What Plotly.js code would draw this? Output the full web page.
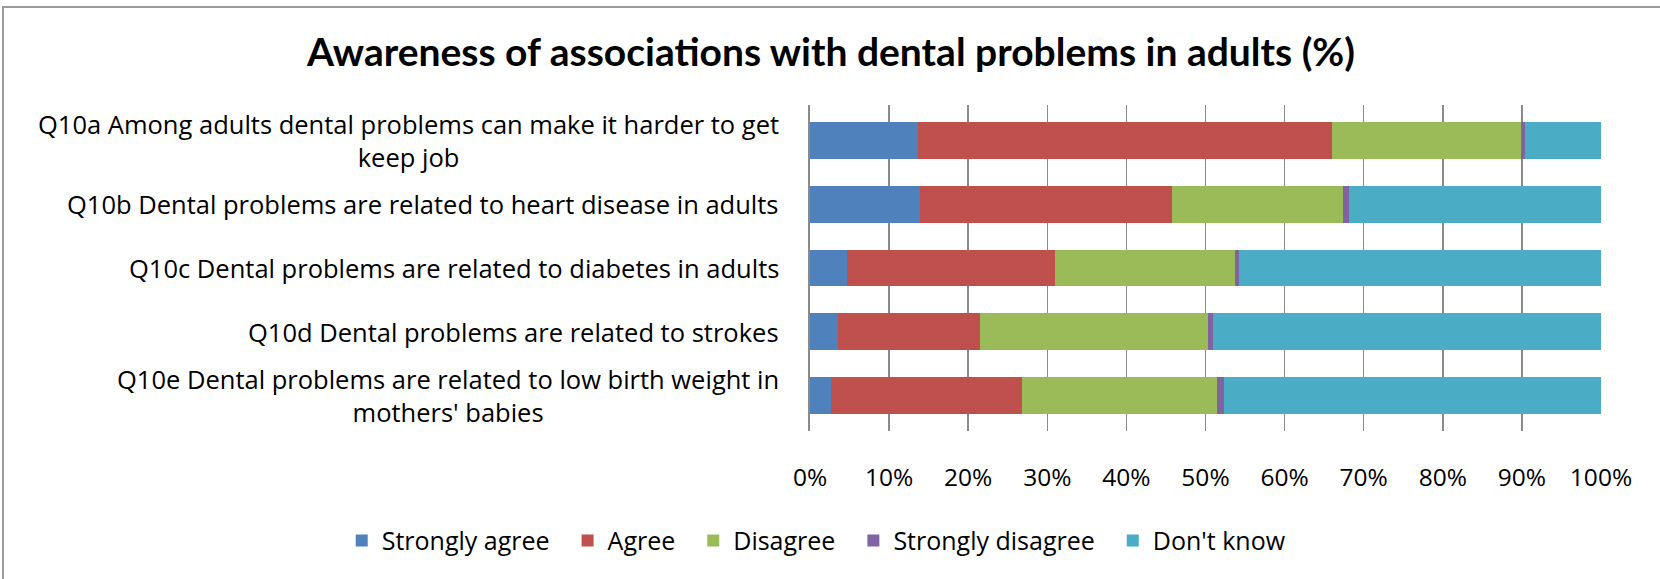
<!DOCTYPE html>
<html>
<head>
<meta charset="utf-8">
<script src="https://cdn.plot.ly/plotly-3.0.1.min.js"></script>
<style>
  html, body { margin: 0; padding: 0; background: #fff; overflow: hidden; }
  #wrap { position: relative; width: 1660px; height: 579px; }
  #chart { position: absolute; left: 0; top: 0; width: 1660px; height: 579px; }
  #frame { position: absolute; left: 2px; top: 6px; width: 1700px; height: 700px;
           border-left: 2px solid #9a9a9a; border-top: 2px solid #9a9a9a; pointer-events: none; }
</style>
</head>
<body>
<div id="wrap">
  <div id="chart"></div>
  <div id="frame"></div>
</div>
<script>
// ---- data ----
const categories = [
  "Q10a Among adults dental problems can make it harder to get<br>keep job",
  "Q10b Dental problems are related to heart disease in adults",
  "Q10c Dental problems are related to diabetes in adults",
  "Q10d Dental problems are related to strokes",
  "Q10e Dental problems are related to low birth weight in<br>mothers' babies"
];
const seriesNames = ["Strongly agree", "Agree", "Disagree", "Strongly disagree", "Don't know"];
const stronglyAgree    = [13.7, 13.9, 4.7, 3.5, 2.7];
const agree            = [52.3, 31.9, 26.3, 18.0, 24.1];
const disagree         = [23.9, 21.6, 22.7, 28.8, 24.7];
const stronglyDisagree = [0.5, 0.7, 0.5, 0.6, 0.8];
const dontKnow         = [9.6, 31.9, 45.8, 49.1, 47.7];
const tickValues = [0, 10, 20, 30, 40, 50, 60, 70, 80, 90, 100];
const tickLabels = ["0%", "10%", "20%", "30%", "40%", "50%", "60%", "70%", "80%", "90%", "100%"];
const titleText = "Awareness of associations with dental problems in adults (%)";

// ---- styles ----
const colors = ["#4F81BD", "#C0504D", "#9BBB59", "#8064A2", "#4BACC6"];
const FONT = "'Open Sans', 'Liberation Sans', sans-serif";
const TITLE_FONT = "Lato, 'Open Sans', sans-serif";
const LEGEND_PAD = "\u00a0\u00a0";  // extra spacing between legend entries

const seriesValues = [stronglyAgree, agree, disagree, stronglyDisagree, dontKnow];
const traces = seriesValues.map((vals, i) => ({
  type: "bar",
  orientation: "h",
  name: seriesNames[i] + LEGEND_PAD,
  x: vals,
  y: categories,
  marker: { color: colors[i], line: { width: 0 } },
  hovertemplate: "%{y}<br>" + seriesNames[i] + ": %{x}%<extra></extra>"
}));

const annotations = categories.map(c => ({
  xref: "paper", yref: "y",
  x: -0.0367, y: c,
  xanchor: "right", yanchor: "middle",
  align: "center",
  text: c,
  showarrow: false,
  font: { family: FONT, size: 25.5, color: "#000" }
}));

const layout = {
  width: 1660, height: 579,
  paper_bgcolor: "#ffffff",
  plot_bgcolor: "#ffffff",
  margin: { l: 810, r: 59, t: 105, b: 148, pad: 0 },
  barmode: "stack",
  bargap: 0.425,
  showlegend: true,
  title: {
    text: "<b>" + titleText + "</b>",
    font: { family: TITLE_FONT, size: 39, color: "#000" },
    xref: "container", yref: "container",
    x: 0.5006, y: 0.909, xanchor: "center", yanchor: "middle"
  },
  xaxis: {
    range: [0, 100],
    tickvals: tickValues,
    ticktext: tickLabels,
    showgrid: true,
    gridcolor: "#8a8a8a",
    gridwidth: 1.5,
    zeroline: false,
    showline: false,
    ticks: "",
    ticklabelstandoff: 29,
    tickfont: { family: FONT, size: 24.5, color: "#000" },
    fixedrange: true
  },
  yaxis: {
    type: "category",
    autorange: "reversed",
    showticklabels: false,
    showgrid: false,
    zeroline: false,
    showline: true,
    linecolor: "#8a8a8a",
    linewidth: 2,
    ticks: "",
    fixedrange: true
  },
  legend: {
    orientation: "h",
    traceorder: "normal",
    xref: "paper", yref: "paper",
    x: -0.592, y: -0.337,
    xanchor: "left", yanchor: "middle",
    font: { family: FONT, size: 25, color: "#000" },
    bgcolor: "rgba(0,0,0,0)"
  },
  annotations: annotations
};

Plotly.newPlot("chart", traces, layout, { displayModeBar: false, staticPlot: true });
</script>
</body>
</html>
